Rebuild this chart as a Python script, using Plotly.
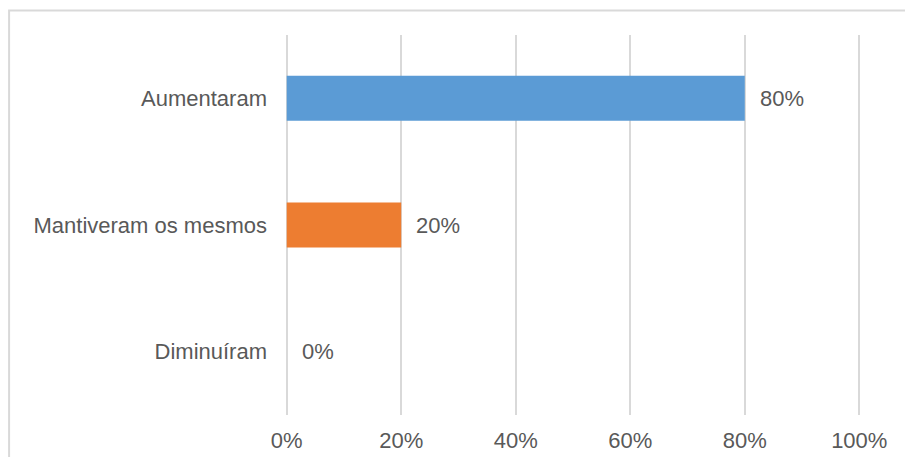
import plotly.graph_objects as go

categories = ["Aumentaram", "Mantiveram os mesmos", "Diminuíram"]
values = [80, 20, 0]
colors = ["#5B9BD5", "#ED7D31", "#A5A5A5"]
x_ticks = [0, 20, 40, 60, 80, 100]
x_tick_labels = ["0%", "20%", "40%", "60%", "80%", "100%"]

FONT = "Liberation Sans, Arial, sans-serif"
TXT = "#595959"
GRID = "#D9D9D9"

fig = go.Figure()
fig.add_trace(go.Bar(
    x=values, y=categories, orientation="h",
    marker=dict(color=colors, line=dict(width=0)),
    width=0.355, hoverinfo="skip",
))

for c, v in zip(categories, values):
    fig.add_annotation(x=v, y=c, xref="x", yref="y", text=f"{v}%",
                       showarrow=False, xanchor="left", xshift=13,
                       font=dict(family=FONT, size=22, color=TXT))

# outer chart border (cropped at right and bottom)
fig.add_shape(type="rect", xref="paper", yref="paper",
              x0=-0.479, x1=1.3, y0=-0.3, y1=1.0645,
              line=dict(color=GRID, width=2), fillcolor="rgba(0,0,0,0)",
              layer="below")

fig.update_layout(
    width=905, height=457,
    margin=dict(l=285, r=44, t=35, b=42),
    paper_bgcolor="white", plot_bgcolor="white",
    showlegend=False,
    font=dict(family=FONT, size=22, color=TXT),
    xaxis=dict(range=[-0.3, 100.3], tickvals=x_ticks, ticktext=x_tick_labels,
               showgrid=True, gridcolor=GRID, gridwidth=2,
               zeroline=False, showline=False, ticks="",
               ticklabelstandoff=10, automargin=False, fixedrange=True),
    yaxis=dict(categoryorder="array", categoryarray=categories,
               autorange="reversed", showgrid=False, zeroline=False,
               showline=False, ticks="", ticklabelstandoff=17,
               automargin=False, fixedrange=True),
)

fig.write_html("out.html", config={"displayModeBar": False},
               post_script="document.body.style.margin='0';document.body.style.overflow='hidden';")
